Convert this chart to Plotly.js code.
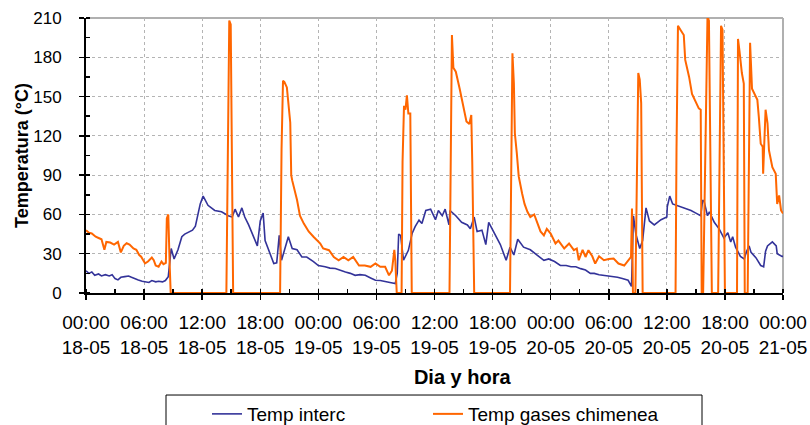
<!DOCTYPE html>
<html><head><meta charset="utf-8">
<script src="https://cdn.plot.ly/plotly-3.0.1.min.js"></script>
<style>html,body{margin:0;padding:0;background:#fff}</style>
</head><body>
<div id="chart" style="width:810px;height:425px"></div>
<script>
// Hours since 18-05 00:00
const hoursInterc = [0,0.3,0.6,0.9,1.3,1.6,2.0,2.4,2.7,3.0,3.3,3.6,4.0,4.4,4.7,5.0,5.4,5.8,6.1,6.5,6.8,7.2,7.5,7.9,8.2,8.5,8.8,9.1,9.5,9.9,10.2,10.6,11.0,11.3,11.6,11.8,12.1,12.6,13.3,14.0,14.7,15.1,15.4,15.75,16.1,16.4,16.8,17.1,17.7,18.0,18.3,18.5,19.0,19.4,19.7,19.96,20.2,20.7,20.9,21.3,21.8,22.3,22.8,23.5,24.0,24.7,25.2,25.75,26.3,26.8,27.3,27.8,28.3,28.85,29.4,29.9,30.4,30.9,31.4,31.95,32.15,32.3,32.5,32.8,33.3,33.7,34.0,34.4,34.7,35.1,35.6,36.1,36.4,36.8,37.1,37.5,37.6,38.2,38.8,39.4,39.7,40.1,40.4,40.9,41.3,41.6,42.1,42.8,43.4,43.8,44.2,44.6,45.2,45.9,46.6,47.3,47.8,48.4,49.0,49.6,50.1,50.6,51.1,51.6,52.1,52.5,53.0,53.6,54.2,54.9,55.4,56.0,56.35,56.55,56.8,57.2,57.5,57.85,58.2,58.7,59.4,60.0,60.05,60.3,60.6,61.0,61.4,62.0,62.5,63.0,63.5,63.7,63.85,64.2,64.4,64.9,65.4,65.9,66.3,66.6,66.8,67.1,67.6,68.0,68.2,68.5,68.7,69.2,69.7,70.0,70.2,70.4,70.9,71.3,71.4,71.9,72.0];
const tempInterc = [17,15,16,13.5,14.5,13,14,13,14,11,10,12,12.5,13,12,11,10,9,8.5,8,9.5,8.5,9,8.5,9.5,12.5,34,26,33,43,45,46.5,48,51,63,68,74,67,63,62,59,58,64,58,65,58,52,47,36,55,61,40,31,22.5,23,44,25,39,43,34,33,27.5,27.5,24,21,20,19,18.7,17,16,15,13.5,14,13.5,11.5,9.7,9.5,8.5,8,7.2,15,45,44,25,32.6,45.7,50.7,55.6,53,63,64,56,63,59,64,52,63,59,54,52,49,58,47,48,37,54,47,37,25,35,29,41,35,33,29,25,26,24,21,21,20,20,18.6,17.5,15,15,14,13.5,12.5,12,11,9.7,5,59,45,34,40,65,55,52,56,58,66,74,68,67,66,64,63,61,59,71,70,59,62,54,49,42,46,39,43,35,28,26,31,36,31,27,21,20,32,36,39,36,30,28,28];

const hoursGases = [0,0.3,0.6,1.0,1.3,1.6,1.9,2.1,2.5,2.9,3.3,3.6,3.9,4.2,4.5,4.9,5.2,5.5,5.7,6.1,6.4,6.8,7.0,7.2,7.5,7.8,8.0,8.25,8.35,8.5,8.65,8.75,14.5,14.65,14.8,14.95,15.05,15.2,20.05,20.2,20.35,20.5,20.75,20.9,21.1,21.2,21.3,21.8,22.1,22.5,22.8,23.0,23.5,24.0,24.2,24.5,25.1,25.6,26.1,26.6,27.1,27.6,28.2,28.8,29.4,29.9,30.4,30.9,31.3,31.6,31.85,31.95,32.1,32.6,32.7,32.85,33.0,33.15,33.3,33.5,33.65,37.55,37.7,37.8,37.95,38.2,38.6,39.0,39.3,39.6,39.8,39.9,40.1,43.8,43.95,44.05,44.2,44.3,44.5,44.7,45.05,45.3,45.6,45.9,46.3,46.6,46.95,47.3,47.6,48.0,48.5,48.8,49.4,49.9,50.4,50.7,50.9,51.3,51.6,51.9,52.3,52.6,53.0,53.5,54.0,54.5,55.0,55.6,55.9,56.3,56.4,56.5,56.75,56.9,57.05,57.2,57.35,57.5,60.9,61.0,61.15,61.4,61.75,61.9,62.3,62.6,62.9,63.3,63.5,63.6,63.75,64.0,64.2,64.35,64.5,64.65,65.3,65.45,65.6,65.75,65.9,66.0,67.25,67.35,67.5,67.75,67.95,68.05,68.35,68.6,68.8,69.35,69.5,69.7,69.9,69.95,70.04,70.2,70.4,70.55,70.9,71.25,71.4,71.6,71.8,72.0];
const tempGases = [48,46,45.5,43,42,41,33,39,38.5,37,39,31,36,38,37,34,33,29,27.7,22.6,24,27,25,21,20,24,22,23,57,60,20,0,0,110,208,205,120,0,0,110,162,161,157,147,130,90,86,71,59,53,49,47,43,39,37.8,34,32.7,27.5,25,27.5,25,27.5,21,21,20,22.5,20,20,13.5,17,33,25,0,0,100,143,140,151,137,137,0,0,150,197,172,169,156,140,131,129,136,100,0,0,130,183,160,122,107,89,76,68,62,58,60,54,47,44,49,45.4,37.8,40,34,37.8,32.7,34,25,33,27.5,32.7,28,22.5,28,25,26,26.3,22.5,21,24,27.5,64.6,0,0,85,168,163,145,0,0,110,204,201,197,178,165,152,147,141,140,0,0,110,211,208,100,0,0,120,204,201,100,0,0,194,185,168,160,0,0,191,156,147.5,134.7,114,111.7,91,109,140,129.6,109,96,91,68,74.5,63,60.7];

const tickHours = [0,6,12,18,24,30,36,42,48,54,60,66,72];
const tickLabels = ['00:00<br>18-05','06:00<br>18-05','12:00<br>18-05','18:00<br>18-05',
  '00:00<br>19-05','06:00<br>19-05','12:00<br>19-05','18:00<br>19-05',
  '00:00<br>20-05','06:00<br>20-05','12:00<br>20-05','18:00<br>20-05','00:00<br>21-05'];
const seriesNames = ['Temp interc','Temp gases chimenea'];

const FONT = 'Arial, "Liberation Sans", sans-serif';

const traces = [
  {type:'scatter', mode:'lines', name:seriesNames[0], x:hoursInterc, y:tempInterc,
   line:{color:'#333399', width:1.6}, legend:'legend'},
  {type:'scatter', mode:'lines', name:seriesNames[1], x:hoursGases, y:tempGases,
   line:{color:'#FF6600', width:2}, legend:'legend2'}
];

const legendBase = {orientation:'h', xanchor:'left', y:-0.371, yanchor:'top',
  borderwidth:0, bgcolor:'rgba(0,0,0,0)', font:{size:19, family:FONT}};

const layout = {
  width:810, height:425,
  margin:{l:86, r:27, t:18, b:132, autoexpand:false},
  paper_bgcolor:'#ffffff', plot_bgcolor:'#ffffff',
  font:{family:FONT, color:'#000000'},
  showlegend:true,
  legend:Object.assign({}, legendBase, {x:0.1736}),
  legend2:Object.assign({}, legendBase, {x:0.4907}),
  xaxis:{range:[0,72], tickmode:'array', tickvals:tickHours, ticktext:tickLabels,
    tickfont:{size:19}, ticks:'outside', ticklen:5, tickcolor:'#000', tickwidth:1.5,
    ticklabelstandoff:6,
    showline:true, linecolor:'#000', linewidth:2,
    showgrid:true, gridcolor:'#b4b4b4', griddash:'dot', gridwidth:1, zeroline:false,
    minor:{tickmode:'linear', tick0:0, dtick:3, ticks:'inside', ticklen:4, tickcolor:'#000', showgrid:false},
    title:{text:'\u200b\u00a0\u00a0\u00a0\u00a0\u00a0\u00a0\u00a0\u00a0\u00a0\u00a0Dia y hora', font:{size:20, weight:'bold'}, standoff:13}},
  yaxis:{range:[0,210], tickmode:'linear', tick0:0, dtick:30,
    tickfont:{size:17}, ticks:'outside', ticklen:5, tickcolor:'#000', tickwidth:1.5,
    ticklabelstandoff:14,
    showline:true, linecolor:'#000', linewidth:2,
    showgrid:true, gridcolor:'#b4b4b4', griddash:'dot', gridwidth:1, zeroline:false,
    minor:{tickmode:'linear', tick0:0, dtick:15, ticks:'inside', ticklen:4, tickcolor:'#000', showgrid:false},
    title:{text:'Temperatura (°C)', font:{size:18, weight:'bold'}, standoff:0}},
  shapes:[
    {type:'line', xref:'paper', yref:'paper', x0:0, x1:1, y0:1, y1:1, line:{color:'#b0b0b0', width:2}, layer:'below'},
    {type:'line', xref:'paper', yref:'paper', x0:1, x1:1, y0:0, y1:1, line:{color:'#b0b0b0', width:2}, layer:'below'},
    {type:'rect', xref:'paper', yref:'paper', x0:0.1148, x1:0.8838, y0:-0.371, y1:-0.62, line:{color:'#000000', width:1}, fillcolor:'rgba(0,0,0,0)'}
  ]
};

Plotly.newPlot('chart', traces, layout, {displayModeBar:false, staticPlot:true});
</script>
</body></html>
